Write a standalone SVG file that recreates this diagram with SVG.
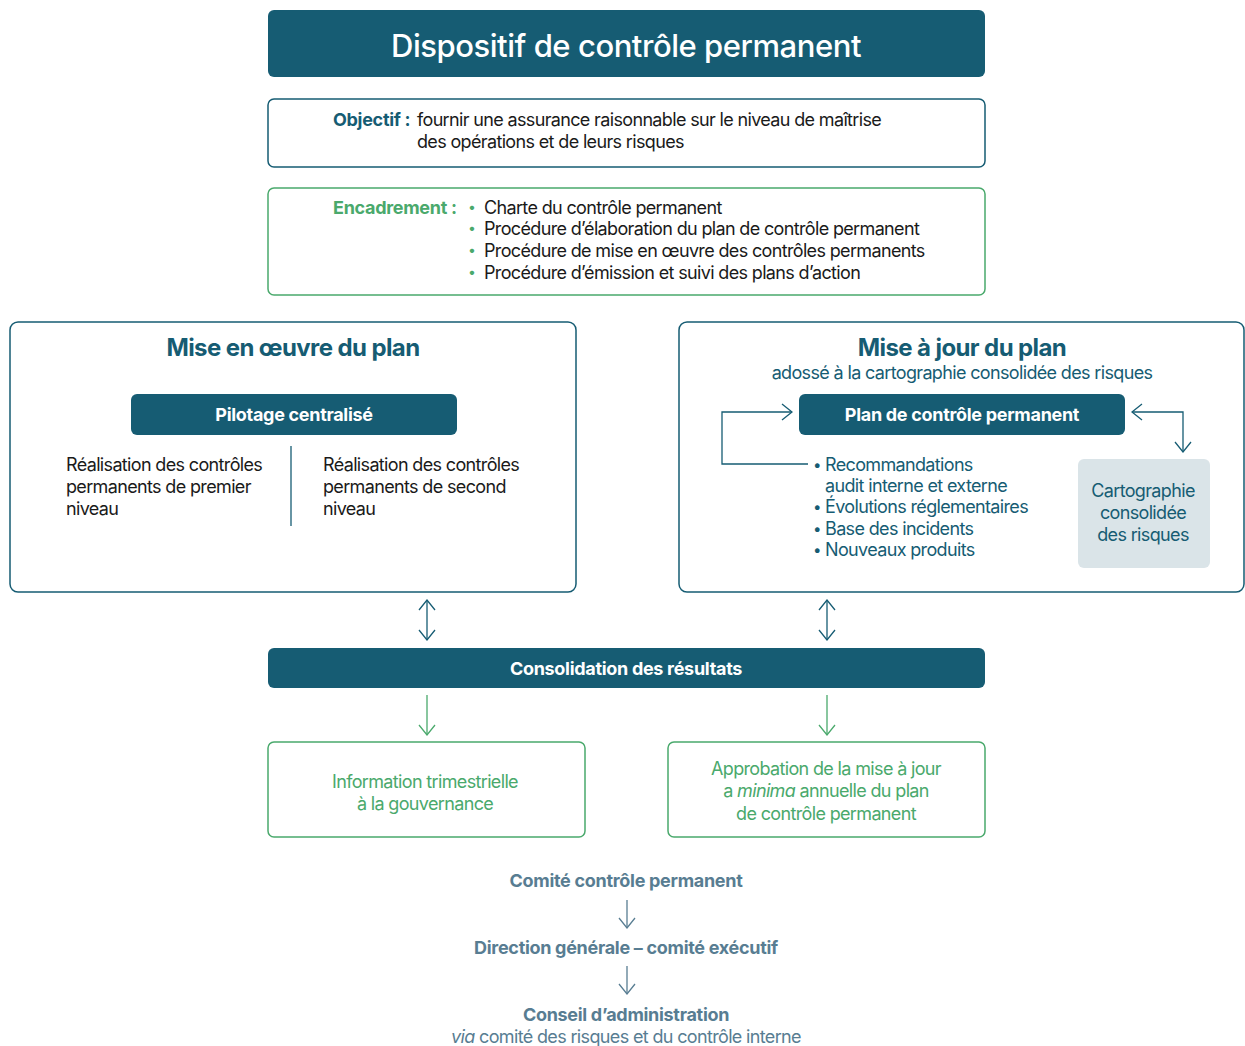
<svg xmlns="http://www.w3.org/2000/svg" width="1245" height="1046" viewBox="0 0 1245 1046">
<defs>
<style>
text{font-family:Inter,"Noto Sans","Liberation Sans",sans-serif;}
.dk{fill:#165c73;}
.box{fill:#fff;stroke:#165c73;stroke-width:1.5;}
.gbox{fill:#fff;stroke:#4aa96c;stroke-width:1.5;}
.wt{fill:#fff;font-weight:700;text-anchor:middle;}
.body{fill:#1a1a1a;font-size:18px;}
.teal{fill:#165c73;}
.green{fill:#4aa96c;}
.grey{fill:#587d92;}
.ln{fill:none;stroke:#165c73;stroke-width:1.3;}
.lg{fill:none;stroke:#4aa96c;stroke-width:1.3;}
.lgr{fill:none;stroke:#587d92;stroke-width:1.3;}
.mid{text-anchor:middle;}
.n{letter-spacing:-0.65px;}
.b{letter-spacing:-0.3px;}
</style>
<marker id="ah" markerWidth="12" markerHeight="18" refX="11" refY="9" orient="auto-start-reverse" markerUnits="userSpaceOnUse"><path d="M1,1 L11,9 L1,17" fill="none" stroke="#165c73" stroke-width="1.3"/></marker>
<marker id="ahg" markerWidth="12" markerHeight="18" refX="11" refY="9" orient="auto-start-reverse" markerUnits="userSpaceOnUse"><path d="M1,1 L11,9 L1,17" fill="none" stroke="#4aa96c" stroke-width="1.3"/></marker>
<marker id="ahb" markerWidth="12" markerHeight="18" refX="11" refY="9" orient="auto-start-reverse" markerUnits="userSpaceOnUse"><path d="M1,1 L11,9 L1,17" fill="none" stroke="#587d92" stroke-width="1.3"/></marker>
</defs>

<g id="title">
<rect x="268" y="10" width="717" height="67" rx="6" class="dk"/>
<text x="626" y="57" class="wt" style="font-size:31px;font-weight:500;letter-spacing:-0.45px">Dispositif de contrôle permanent</text>
</g>

<g id="objectif">
<rect x="268" y="99" width="717" height="68" rx="6" class="box"/>
<text x="333" y="126" class="teal b" style="font-size:18px;font-weight:700">Objectif :</text>
<text x="417" y="126" class="body n">fournir une assurance raisonnable sur le niveau de maîtrise</text>
<text x="417" y="148" class="body n">des opérations et de leurs risques</text>
</g>

<g id="encadrement">
<rect x="268" y="188" width="717" height="107" rx="6" class="gbox"/>
<text x="333" y="214" class="green b" style="font-size:18px;font-weight:700">Encadrement :</text>
<g class="green" style="font-size:14px">
<text x="468" y="212">•</text><text x="468" y="233">•</text><text x="468" y="255">•</text><text x="468" y="277">•</text>
</g>
<g class="body n">
<text x="484" y="214">Charte du contrôle permanent</text>
<text x="484" y="235">Procédure d’élaboration du plan de contrôle permanent</text>
<text x="484" y="257">Procédure de mise en œuvre des contrôles permanents</text>
<text x="484" y="279">Procédure d’émission et suivi des plans d’action</text>
</g>
</g>

<g id="mise-en-oeuvre">
<rect x="10" y="322" width="566" height="270" rx="8" class="box"/>
<text x="293" y="356" class="teal mid" style="font-size:24px;font-weight:700;letter-spacing:-0.6px">Mise en œuvre du plan</text>
<rect x="131" y="394" width="326" height="41" rx="6" class="dk"/>
<text x="294" y="421" class="wt b" style="font-size:18px">Pilotage centralisé</text>
<line x1="291" y1="446" x2="291" y2="526" class="ln"/>
<g class="body n">
<text x="66" y="471">Réalisation des contrôles</text>
<text x="66" y="493">permanents de premier</text>
<text x="66" y="515">niveau</text>
<text x="323" y="471">Réalisation des contrôles</text>
<text x="323" y="493">permanents de second</text>
<text x="323" y="515">niveau</text>
</g>
</g>

<g id="mise-a-jour">
<rect x="679" y="322" width="565" height="270" rx="8" class="box"/>
<text x="962" y="356" class="teal mid" style="font-size:24px;font-weight:700;letter-spacing:-0.6px">Mise à jour du plan</text>
<text x="962" y="379" class="teal mid n" style="font-size:18px">adossé à la cartographie consolidée des risques</text>
</g>

<g id="plan-controle">
<rect x="799" y="394" width="326" height="41" rx="6" class="dk"/>
<text x="962" y="421" class="wt b" style="font-size:18px">Plan de contrôle permanent</text>
</g>

<g id="sources">
<g class="teal n" style="font-size:18px">
<text x="813" y="470" style="font-size:15px">•</text><text x="813" y="512" style="font-size:15px">•</text><text x="813" y="534" style="font-size:15px">•</text><text x="813" y="555" style="font-size:15px">•</text>
<text x="825" y="471">Recommandations</text>
<text x="825" y="492">audit interne et externe</text>
<text x="825" y="513">Évolutions réglementaires</text>
<text x="825" y="535">Base des incidents</text>
<text x="825" y="556">Nouveaux produits</text>
</g>
</g>

<g id="cartographie">
<rect x="1078" y="459" width="132" height="109" rx="6" fill="#dae4e8"/>
<g class="teal mid n" style="font-size:18px">
<text x="1143" y="497">Cartographie</text>
<text x="1143" y="519">consolidée</text>
<text x="1143" y="541">des risques</text>
</g>
</g>

<g id="consolidation">
<rect x="268" y="648" width="717" height="40" rx="6" class="dk"/>
<text x="626" y="675" class="wt b" style="font-size:18px">Consolidation des résultats</text>
</g>

<g id="information">
<rect x="268" y="742" width="317" height="95" rx="6" class="gbox"/>
<g class="green mid n" style="font-size:18px">
<text x="425" y="788">Information trimestrielle</text>
<text x="425" y="810">à la gouvernance</text>
</g>
</g>

<g id="approbation">
<rect x="668" y="742" width="317" height="95" rx="6" class="gbox"/>
<g class="green mid n" style="font-size:18px">
<text x="826" y="775">Approbation de la mise à jour</text>
<text x="826" y="797">a <tspan font-style="italic">minima</tspan> annuelle du plan</text>
<text x="826" y="820">de contrôle permanent</text>
</g>
</g>

<g id="comite">
<text x="626" y="887" class="grey mid b" style="font-size:18px;font-weight:700">Comité contrôle permanent</text>
</g>
<g id="direction">
<text x="626" y="954" class="grey mid b" style="font-size:18px;font-weight:700">Direction générale – comité exécutif</text>
</g>
<g id="conseil">
<text x="626" y="1021" class="grey mid b" style="font-size:18px;font-weight:700">Conseil d’administration</text>
<text x="626" y="1043" class="grey mid n" style="font-size:18px"><tspan font-style="italic">via</tspan> comité des risques et du contrôle interne</text>
</g>

<g id="connectors">
<path d="M808,464 H722 V412 H792" class="ln" marker-end="url(#ah)"/>
<path d="M1183,452 V412 H1132" class="ln" marker-start="url(#ah)" marker-end="url(#ah)"/>
<line x1="427" y1="600" x2="427" y2="640" class="ln" marker-start="url(#ah)" marker-end="url(#ah)"/>
<line x1="827" y1="600" x2="827" y2="640" class="ln" marker-start="url(#ah)" marker-end="url(#ah)"/>
<line x1="427" y1="695" x2="427" y2="735" class="lg" marker-end="url(#ahg)"/>
<line x1="827" y1="695" x2="827" y2="735" class="lg" marker-end="url(#ahg)"/>
<line x1="627" y1="900" x2="627" y2="928" class="lgr" marker-end="url(#ahb)"/>
<line x1="627" y1="966" x2="627" y2="994" class="lgr" marker-end="url(#ahb)"/>
</g>
</svg>
